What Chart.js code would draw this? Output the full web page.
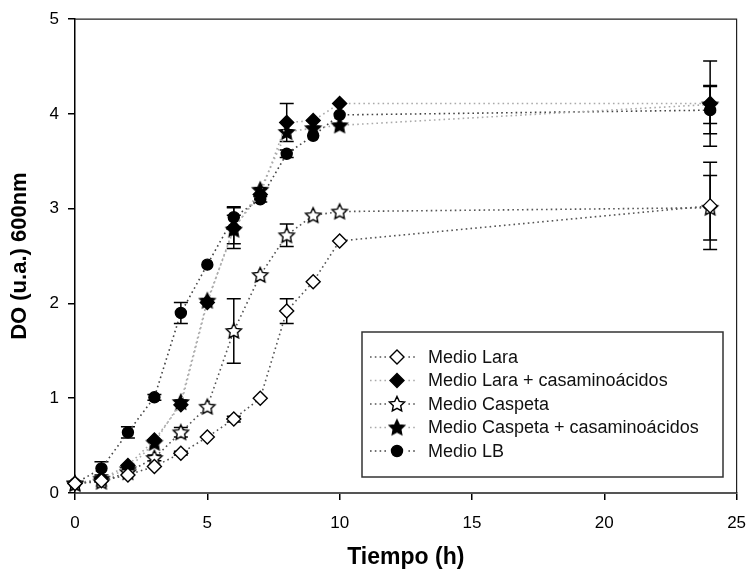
<!DOCTYPE html>
<html>
<head>
<meta charset="utf-8">
<script src="https://cdn.jsdelivr.net/npm/chart.js@4.4.1/dist/chart.umd.min.js"></script>
<style>
  html, body { margin: 0; padding: 0; background: #fff; }
  #wrap { width: 746px; height: 571px; }
</style>
</head>
<body>
<div id="wrap"><canvas id="myChart"></canvas></div>
<script>
// tiempo de muestreo (h)
const tiempo = [0, 1, 2, 3, 4, 5, 6, 7, 8, 9, 10, 24];

// DO 600nm por medio
const medioLara      = [0.10, 0.13, 0.19, 0.28, 0.42, 0.59, 0.78, 1.00, 1.92, 2.23, 2.66, 3.03];
const medioLaraCas   = [0.10, 0.15, 0.29, 0.56, 0.93, 2.01, 2.80, 3.15, 3.91, 3.93, 4.11, 4.11];
const medioCaspeta   = [0.10, 0.12, 0.22, 0.37, 0.64, 0.91, 1.71, 2.30, 2.72, 2.93, 2.97, 3.01];
const medioCaspetaCas= [0.10, 0.15, 0.25, 0.53, 0.96, 2.03, 2.78, 3.20, 3.81, 3.85, 3.88, 4.10];
const medioLB        = [0.10, 0.26, 0.64, 1.01, 1.90, 2.41, 2.91, 3.10, 3.58, 3.77, 3.99, 4.04];

// desviación estándar
const errLara        = [0, 0, 0, 0, 0.02, 0, 0.03, 0, 0.13, 0, 0, 0.46];
const errLaraCas     = [0, 0, 0, 0, 0, 0, 0.22, 0, 0.20, 0, 0, 0.45];
const errCaspeta     = [0, 0, 0, 0.03, 0.05, 0, 0.34, 0, 0.12, 0, 0, 0.34];
const errCaspetaCas  = [0, 0, 0, 0, 0, 0, 0.15, 0, 0, 0, 0, 0.20];
const errLB          = [0, 0.07, 0.06, 0.03, 0.11, 0, 0.10, 0.03, 0.04, 0, 0, 0.25];

const etiquetas = ['Medio Lara', 'Medio Lara + casaminoácidos', 'Medio Caspeta',
                   'Medio Caspeta + casaminoácidos', 'Medio LB'];
const ticksX = [0, 5, 10, 15, 20, 25];
const ticksY = [0, 1, 2, 3, 4, 5];

function makeStar(fill) {
  const c = document.createElement('canvas');
  c.width = 20; c.height = 20;
  const g = c.getContext('2d');
  g.beginPath();
  for (let i = 0; i < 10; i++) {
    const r = i % 2 === 0 ? 8 : 3.9;
    const a = -Math.PI / 2 + i * Math.PI / 5;
    const px = 10 + r * Math.cos(a), py = 10.5 + r * Math.sin(a);
    if (i === 0) g.moveTo(px, py); else g.lineTo(px, py);
  }
  g.closePath();
  g.fillStyle = fill;
  g.fill();
  g.lineWidth = 1.4;
  g.strokeStyle = '#000';
  g.stroke();
  return c;
}
const starOpen = makeStar('#fff');
const starFilled = makeStar('#000');

const series = [
  { data: medioLara, err: errLara, style: 'rectRot', radius: 7, fill: '#fff', line: '#555' },
  { data: medioLaraCas, err: errLaraCas, style: 'rectRot', radius: 7, fill: '#000', line: '#aaa' },
  { data: medioCaspeta, err: errCaspeta, style: starOpen, radius: 8, fill: '#fff', line: '#555' },
  { data: medioCaspetaCas, err: errCaspetaCas, style: starFilled, radius: 8, fill: '#000', line: '#aaa' },
  { data: medioLB, err: errLB, style: 'circle', radius: 5.5, fill: '#000', line: '#444' }
];

const datasets = series.map((s, k) => ({
  label: etiquetas[k],
  data: tiempo.map((t, i) => ({ x: t, y: s.data[i] })),
  err: s.err,
  borderColor: s.line,
  borderWidth: 1.6,
  borderDash: [1.6, 3.2],
  pointStyle: s.style,
  pointRadius: s.radius,
  pointBackgroundColor: s.fill,
  pointBorderColor: '#000',
  pointBorderWidth: 1.4,
  tension: 0,
  fill: false,
  clip: false
}));

// barras de error, debajo de los marcadores
const errorBars = {
  id: 'errorBars',
  beforeDatasetsDraw(chart) {
    const { ctx, scales: { x, y } } = chart;
    ctx.save();
    ctx.strokeStyle = '#000';
    ctx.lineWidth = 1.5;
    chart.data.datasets.forEach(ds => {
      ds.data.forEach((p, i) => {
        const e = ds.err[i];
        if (!e) return;
        const px = x.getPixelForValue(p.x);
        const top = y.getPixelForValue(p.y + e);
        const bot = y.getPixelForValue(p.y - e);
        ctx.beginPath();
        ctx.moveTo(px, top); ctx.lineTo(px, bot);
        ctx.moveTo(px - 7, top); ctx.lineTo(px + 7, top);
        ctx.moveTo(px - 7, bot); ctx.lineTo(px + 7, bot);
        ctx.stroke();
      });
    });
    ctx.restore();
  }
};

// marco superior y derecho
const frame = {
  id: 'frame',
  afterDraw(chart) {
    const { ctx, chartArea: a } = chart;
    ctx.save();
    ctx.strokeStyle = '#222';
    ctx.lineWidth = 1.2;
    ctx.beginPath();
    ctx.moveTo(a.left, a.top); ctx.lineTo(a.right, a.top); ctx.lineTo(a.right, a.bottom);
    ctx.stroke();
    ctx.restore();
  }
};

function drawMarker(ctx, ds, cx, cy) {
  const st = ds.pointStyle;
  if (st instanceof HTMLCanvasElement) {
    ctx.drawImage(st, cx - st.width / 2, cy - st.height / 2);
    return;
  }
  ctx.beginPath();
  if (st === 'circle') {
    ctx.arc(cx, cy, ds.pointRadius, 0, Math.PI * 2);
  } else {
    const r = ds.pointRadius;
    ctx.moveTo(cx, cy - r); ctx.lineTo(cx + r, cy); ctx.lineTo(cx, cy + r); ctx.lineTo(cx - r, cy);
    ctx.closePath();
  }
  ctx.fillStyle = ds.pointBackgroundColor;
  ctx.fill();
  ctx.lineWidth = ds.pointBorderWidth;
  ctx.strokeStyle = '#000';
  ctx.stroke();
}

const boxLegend = {
  id: 'boxLegend',
  afterDraw(chart) {
    const ctx = chart.ctx;
    ctx.save();
    ctx.fillStyle = '#fff';
    ctx.fillRect(362, 332, 361, 145);
    ctx.strokeStyle = '#333';
    ctx.lineWidth = 1.5;
    ctx.strokeRect(362, 332, 361, 145);
    ctx.font = '18px "Liberation Sans", Arial, sans-serif';
    ctx.textBaseline = 'middle';
    chart.data.datasets.forEach((ds, i) => {
      const cy = 357 + i * 23.5;
      ctx.save();
      ctx.strokeStyle = ds.borderColor;
      ctx.lineWidth = ds.borderWidth;
      ctx.setLineDash(ds.borderDash);
      ctx.beginPath();
      ctx.moveTo(370, cy); ctx.lineTo(415, cy);
      ctx.stroke();
      ctx.restore();
      ctx.fillStyle = '#fff';
      ctx.fillRect(388, cy - 9, 19, 18);
      drawMarker(ctx, ds, 397, cy);
      ctx.fillStyle = '#111';
      ctx.fillText(ds.label, 428, cy + 1);
    });
    ctx.restore();
  }
};

const ctx = document.getElementById('myChart');
new Chart(ctx, {
  type: 'line',
  data: { datasets: datasets },
  plugins: [errorBars, frame, boxLegend],
  options: {
    responsive: true,
    maintainAspectRatio: false,
    animation: false,
    layout: { padding: { top: 19, right: 0, left: 0, bottom: 0 } },
    plugins: { legend: { display: false }, tooltip: { enabled: false } },
    scales: {
      x: {
        type: 'linear',
        min: 0, max: 25,
        afterBuildTicks: s => { s.ticks = ticksX.map(v => ({ value: v })); },
        afterFit: s => { s.height = 78; s.paddingRight = 9; s.paddingLeft = 0; },
        ticks: { color: '#000', font: { size: 17, family: '"Liberation Sans", Arial' }, padding: 13, maxRotation: 0 },
        grid: { drawOnChartArea: false, tickLength: 7, color: '#000', lineWidth: 1.5 },
        border: { color: '#555', width: 2 },
        title: {
          display: true, text: 'Tiempo (h)', color: '#000',
          font: { size: 23, weight: 'bold', family: '"Liberation Sans", Arial' },
          padding: { top: 0, bottom: 0 }
        }
      },
      y: {
        min: 0, max: 5,
        afterBuildTicks: s => { s.ticks = ticksY.map(v => ({ value: v })); },
        afterFit: s => { s.width = 75; },
        ticks: { color: '#000', font: { size: 17, family: '"Liberation Sans", Arial' }, padding: 9 },
        grid: { drawOnChartArea: false, tickLength: 7, color: '#000', lineWidth: 1.5 },
        border: { color: '#000', width: 1.5 },
        title: {
          display: true, text: 'DO (u.a.) 600nm', color: '#000',
          font: { size: 22, weight: 'bold', family: '"Liberation Sans", Arial' },
          padding: { top: 7, bottom: 0 }
        }
      }
    }
  }
});
</script>
</body>
</html>
